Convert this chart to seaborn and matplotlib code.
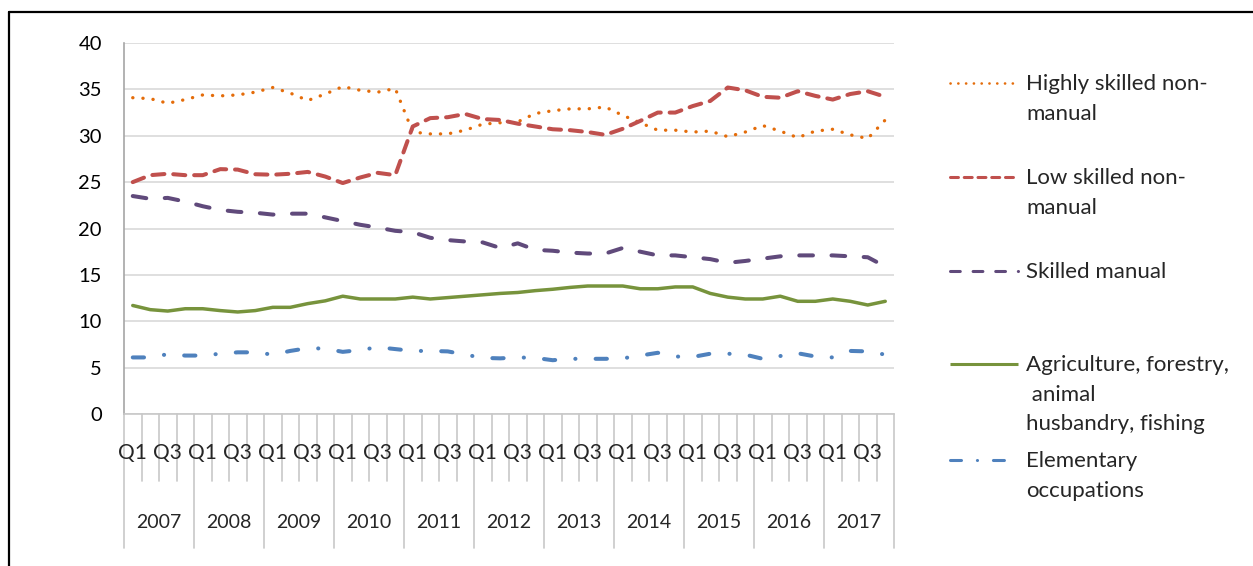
"""
Occupational structure of employment, quarterly 2007-2017.
Excel-style line chart with two-level category axis (quarter / year).
"""
import matplotlib
matplotlib.use("Agg")
import matplotlib.pyplot as plt
import matplotlib.transforms as mtransforms
from matplotlib.lines import Line2D
import pandas as pd
import seaborn as sns

YEARS = list(range(2007, 2018))
QUARTERS = ["Q1", "Q2", "Q3", "Q4"]
SHOWN_QUARTERS = ["Q1", "Q3"]

SERIES_NAMES = [
    "Highly skilled non-\nmanual",
    "Low skilled non-\nmanual",
    "Skilled manual",
    "Agriculture, forestry,\n animal\nhusbandry, fishing",
    "Elementary\noccupations",
]

highly_skilled = [34.1, 34.0, 33.5, 33.9, 34.4, 34.3, 34.4, 34.7, 35.2, 34.6, 33.8,
                  34.5, 35.3, 34.9, 34.7, 35.1, 30.4, 30.2, 30.2, 30.6, 31.25, 31.4,
                  31.5, 32.4, 32.7, 32.9, 32.9, 33.1, 32.2, 31.4, 30.6, 30.6, 30.4,
                  30.5, 29.9, 30.4, 31.1, 30.5, 29.8, 30.5, 30.7, 30.1, 29.7, 31.7]
low_skilled = [25.0, 25.75, 25.9, 25.75, 25.75, 26.4, 26.35, 25.85, 25.8, 25.9, 26.1,
               25.6, 24.9, 25.5, 26.0, 25.75, 31.0, 31.9, 32.0, 32.35, 31.8, 31.7,
               31.3, 31.0, 30.7, 30.6, 30.4, 30.1, 30.75, 31.6, 32.5, 32.5, 33.2,
               33.75, 35.2, 34.9, 34.2, 34.1, 34.8, 34.3, 33.9, 34.5, 34.8, 34.2]
skilled_manual = [23.5, 23.2, 23.3, 22.9, 22.4, 22.0, 21.8, 21.7, 21.5, 21.6, 21.6,
                  21.2, 20.8, 20.4, 20.1, 19.75, 19.6, 19.0, 18.75, 18.6, 18.5, 17.9,
                  18.4, 17.7, 17.6, 17.4, 17.3, 17.3, 17.9, 17.5, 17.1, 17.1, 16.9,
                  16.7, 16.3, 16.5, 16.75, 17.0, 17.1, 17.1, 17.1, 17.0, 16.9, 15.9]
agriculture = [11.7, 11.25, 11.1, 11.35, 11.35, 11.15, 11.0, 11.15, 11.5, 11.5, 11.9,
               12.2, 12.7, 12.4, 12.4, 12.4, 12.6, 12.4, 12.55, 12.7, 12.85, 13.0,
               13.1, 13.3, 13.45, 13.65, 13.8, 13.8, 13.8, 13.5, 13.5, 13.7, 13.7,
               13.0, 12.6, 12.4, 12.4, 12.7, 12.15, 12.15, 12.4, 12.15, 11.75, 12.15]
elementary = [6.1, 6.1, 6.45, 6.3, 6.3, 6.5, 6.65, 6.65, 6.4, 6.8, 7.1,
              7.05, 6.7, 6.9, 7.2, 7.0, 6.8, 6.8, 6.75, 6.4, 6.05, 6.0,
              6.1, 6.05, 5.8, 5.95, 5.95, 5.95, 6.0, 6.3, 6.6, 6.2, 6.15,
              6.5, 6.5, 6.4, 5.95, 6.25, 6.55, 6.2, 6.1, 6.8, 6.75, 6.4]

COLORS = ["#E46C0A", "#C0504D", "#604A7B", "#77933C", "#4F81BD"]
# dash patterns in linewidth units (round caps), None = solid
DASHES = [(0.05, 3.0), (3.0, 2.2), (3.4, 4.6), None, (2.8, 5.0, 0.05, 5.0)]
WIDTHS = [2.4, 2.9, 2.9, 2.5, 2.9]
LEGEND_DASHES = [(0.05, 2.9), (2.6, 1.9), (3.2, 4.2), None, (3.6, 5.2, 0.05, 5.2)]
LEGEND_WIDTHS = [1.9, 2.2, 2.2, 2.2, 2.2]

W, H = 1253, 566


def fig_box(x0, y0, x1, y1):
    return [x0 / W, 1 - y1 / H, (x1 - x0) / W, (y1 - y0) / H]


def main() -> None:
    sns.set_theme(style="white")
    plt.rcParams["font.family"] = ["Lato", "DejaVu Sans"]

    labels = [f"{q}" for y in YEARS for q in QUARTERS]
    t = list(range(len(labels)))
    values = [highly_skilled, low_skilled, skilled_manual, agriculture, elementary]
    df = pd.DataFrame({
        "t": t * len(SERIES_NAMES),
        "value": [v for series in values for v in series],
        "series": [n for n in SERIES_NAMES for _ in t],
    })

    fig = plt.figure(figsize=(W / 100, H / 100), dpi=100)
    ax = fig.add_axes(fig_box(124, 43, 894, 414))

    for name, color, dash, lw in zip(SERIES_NAMES, COLORS, DASHES, WIDTHS):
        sub = df[df["series"] == name]
        sns.lineplot(data=sub, x="t", y="value", ax=ax, color=color, linewidth=lw,
                     errorbar=None, sort=False, legend=False,
                     dash_capstyle="round", solid_capstyle="round")
        if dash is not None:
            ax.lines[-1].set_dashes(dash)

    ax.set_xlim(-0.5, len(labels) - 0.5)
    ax.set_ylim(0, 40)
    ax.set_yticks(range(0, 45, 5))
    ax.set_xticks([])
    ax.set_xlabel("")
    ax.set_ylabel("")
    ax.yaxis.grid(True, color="#D9D9D9", linewidth=1.2)
    ax.set_axisbelow(True)
    for side in ["top", "right"]:
        ax.spines[side].set_visible(False)
    ax.spines["left"].set_color("#A6A6A6")
    ax.spines["left"].set_linewidth(1.2)
    ax.spines["bottom"].set_color("#C8C8C8")
    ax.spines["bottom"].set_linewidth(1.2)
    ax.tick_params(axis="y", direction="out", length=6, width=1.2, color="#A6A6A6",
                   pad=10, labelsize=14.5, labelcolor="black")

    # two-level category axis
    ax_h = 414 - 43
    trans = mtransforms.blended_transform_factory(ax.transData, ax.transAxes)
    for k in range(len(labels) + 1):
        depth = 134 if k % 4 == 0 else 67
        ax.plot([k - 0.5, k - 0.5], [0, -depth / ax_h], transform=trans, clip_on=False,
                color="#C8C8C8", linewidth=1.2)
    for i, lab in enumerate(labels):
        if lab in SHOWN_QUARTERS:
            ax.text(i, -39 / ax_h, lab, transform=trans, ha="center", va="center",
                    fontsize=15)
    for j, year in enumerate(YEARS):
        ax.text(4 * j + 1.5, -108 / ax_h, str(year), transform=trans, ha="center",
                va="center", fontsize=14)

    # legend, Excel style (line level with first text line)
    legend_y = [83, 177, 271, 364, 460]
    for name, color, dash, lw, y in zip(SERIES_NAMES, COLORS, LEGEND_DASHES,
                                         LEGEND_WIDTHS, legend_y):
        line = Line2D([950 / W, 1018 / W], [1 - y / H] * 2, transform=fig.transFigure,
                      color=color, linewidth=lw, dash_capstyle="round",
                      solid_capstyle="butt")
        if dash is not None:
            line.set_dashes(dash)
        fig.add_artist(line)
        fig.text(1026 / W, 1 - (y - 9) / H, name, ha="left", va="top",
                 fontsize=16, linespacing=1.6)

    # chart frame (partially cropped)
    frame_kw = dict(transform=fig.transFigure, color="black", linewidth=1.6)
    fig.add_artist(Line2D([9 / W, 1.0], [1 - 12 / H] * 2, **frame_kw))
    fig.add_artist(Line2D([9 / W, 9 / W], [1 - 12 / H, 0.0], **frame_kw))

    fig.savefig("out.png", dpi=100)
    plt.close(fig)


if __name__ == "__main__":
    main()
